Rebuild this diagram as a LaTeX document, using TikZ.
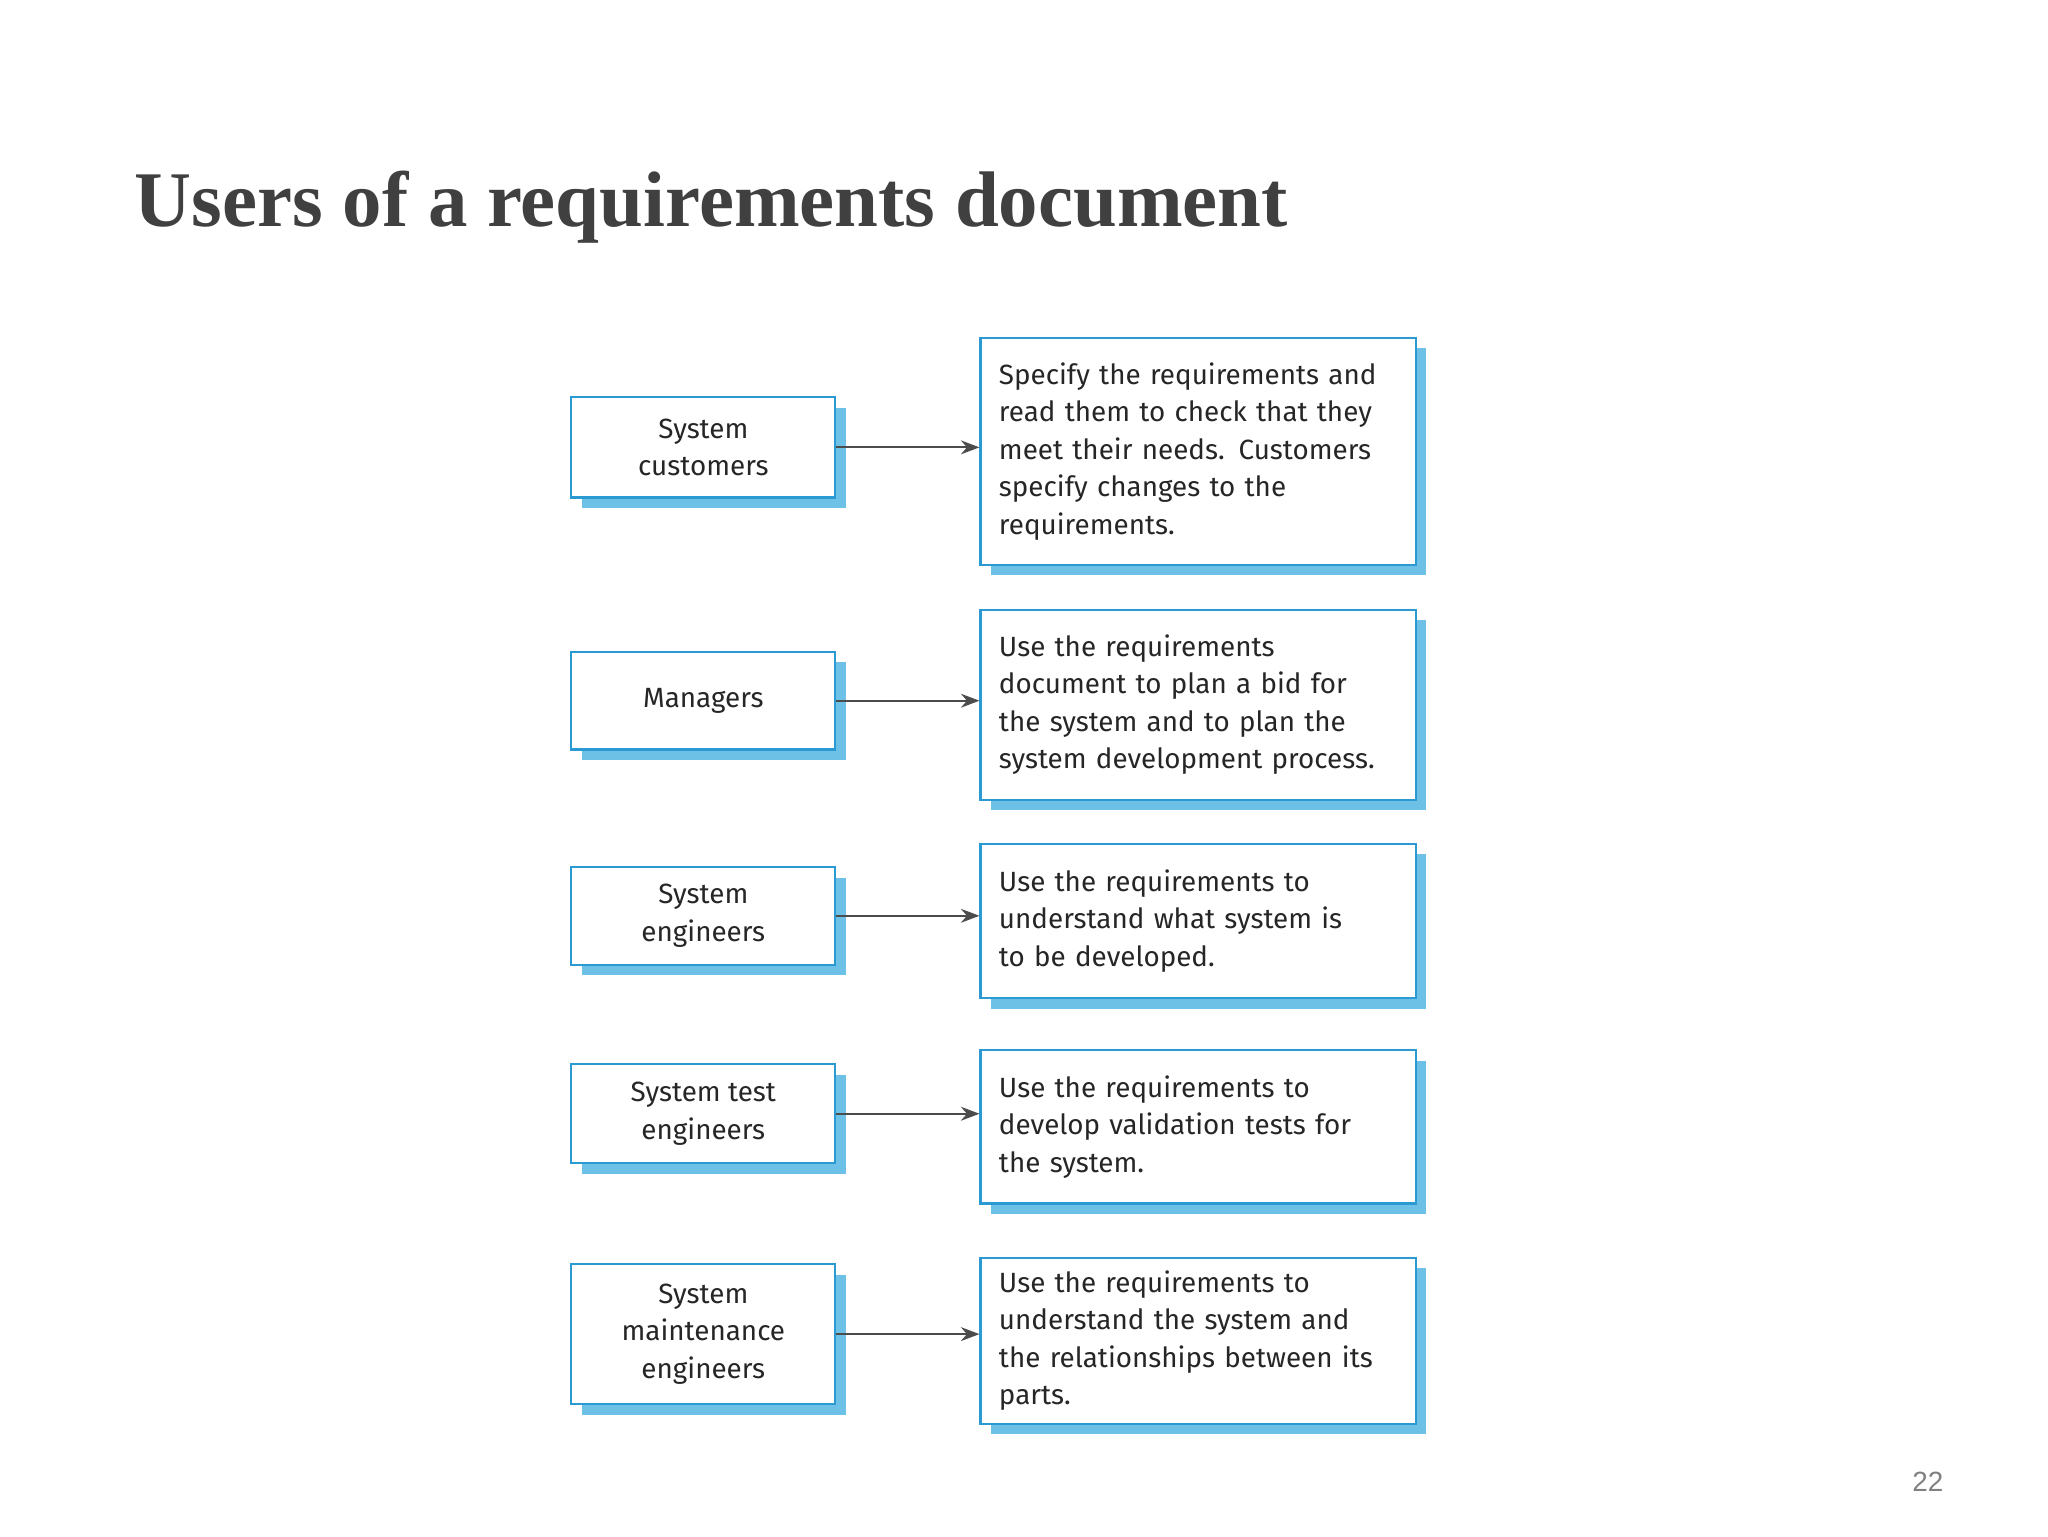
\documentclass[tikz,border=0pt]{standalone}
\usepackage{fontspec}
\setmainfont{Liberation Serif}
\newfontfamily\boxfont{Fira Sans}
\usetikzlibrary{arrows.meta}
\definecolor{bb}{HTML}{2C9AD2}
\definecolor{sb}{HTML}{6EC1E6}
\definecolor{tg}{HTML}{404040}
\tikzset{
 bx/.style={draw=bb, line width=0.9pt, fill=white, preaction={fill=sb, transform canvas={xshift=0.16cm,yshift=-0.16cm}}, font=\boxfont\fontsize{12}{16.2}\selectfont, text=black!85},
 lbox/.style={bx, minimum width=4cm, align=center, inner sep=0pt},
 rbox/.style={bx, minimum width=6.6cm, text width=6.04cm, align=left, inner xsep=0.28cm, inner ysep=0pt},
 arr/.style={draw=black!70, line width=0.8pt, -{Stealth[length=8pt,width=6pt]}}
}
\begin{document}
\begin{tikzpicture}[x=0.02cm,y=-0.02cm]
\useasboundingbox[fill=white] (0,0) rectangle (1552,1164);
\node[anchor=base west, font=\bfseries\fontsize{34}{40}\selectfont, text=tg] (title) at (96,172) {Users of a requirements document};
\node[text=black!50, font=\fontspec{Liberation Sans}\fontsize{12}{14}\selectfont] (pg) at (1461,1123) {22};
\node[lbox, minimum height=1.52cm] (l1) at (533,339) {System\\customers};
\node[lbox, minimum height=1.48cm] (l2) at (533,531) {Managers};
\node[lbox, minimum height=1.48cm] (l3) at (533,694) {System\\engineers};
\node[lbox, minimum height=1.5cm] (l4) at (533,844) {System test\\engineers};
\node[lbox, minimum height=2.12cm] (l5) at (533,1011) {System\\maintenance\\engineers};
\node[rbox, minimum height=3.44cm] (r1) at (908,342) {Specify the requirements and\\read them to check that they\\meet their needs. Customers\\specify changes to the\\requirements.};
\node[rbox, minimum height=2.88cm] (r2) at (908,534) {Use the requirements\\document to plan a bid for\\the system and to plan the\\system development process.};
\node[rbox, minimum height=2.34cm] (r3) at (908,698) {Use the requirements to\\understand what system is\\to be developed.};
\node[rbox, minimum height=2.32cm] (r4) at (908,854) {Use the requirements to\\develop validation tests for\\the system.};
\node[rbox, minimum height=2.52cm] (r5) at (908,1016) {Use the requirements to\\understand the system and\\the relationships between its\\parts.};
\foreach \i in {1,...,5} \draw[arr] (l\i.east) -- (l\i.east -| r\i.west);
\end{tikzpicture}
\end{document}
